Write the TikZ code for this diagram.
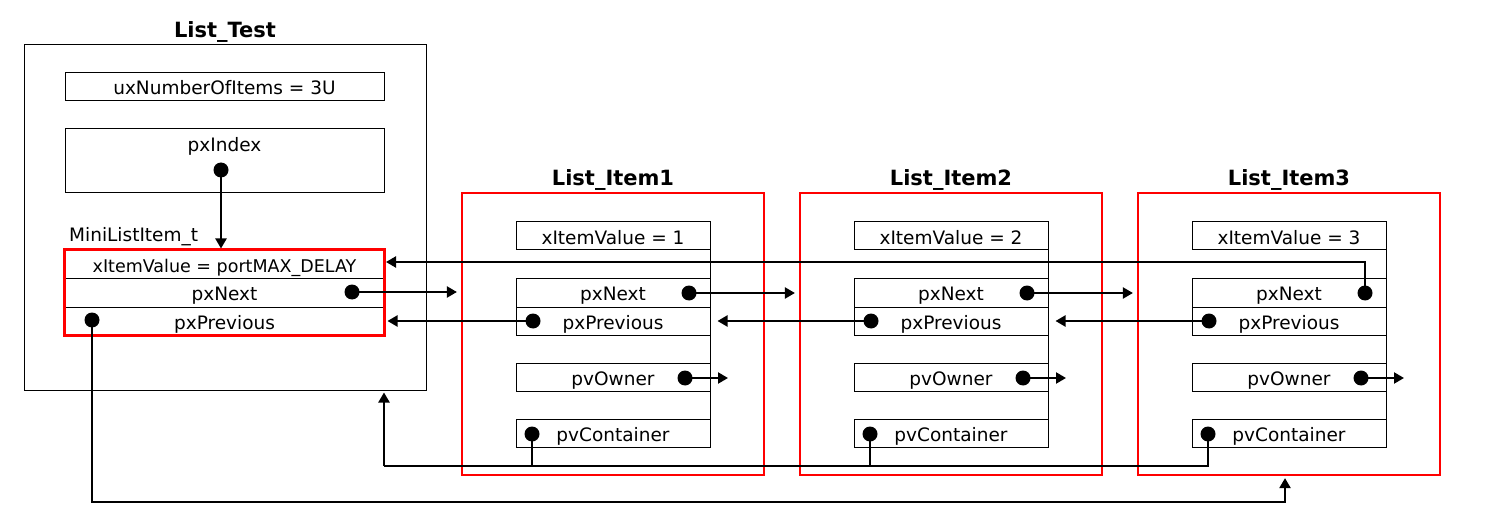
\documentclass[tikz,border=0pt]{standalone}
\usepackage{fontspec}
\setmainfont{DejaVu Sans}
\usetikzlibrary{arrows.meta}
\begin{document}
\begin{tikzpicture}[x=1pt,y=-1pt,
 body/.style={font=\fontsize{18.5}{22}\selectfont},
 small/.style={font=\fontsize{17.5}{21}\selectfont},
 ttl/.style={font=\fontsize{21}{25}\selectfont\bfseries, anchor=base, inner sep=0pt},
 fld/.style={draw, line width=1pt, inner sep=0pt, minimum height=28pt, text height=16pt, text depth=0pt, body},
 ifld/.style={fld, minimum width=194pt},
 dot/.style={circle, fill, inner sep=0pt, minimum size=15pt},
 conn/.style={line width=2.2pt, -{Triangle[length=10pt,width=11pt]}},
 bus/.style={line width=2.2pt},
 redbox/.style={draw=red, line width=2.2pt},
 outer/.style={draw, line width=1pt}]

\useasboundingbox[fill=white] (0,0) rectangle (1487,521);

% List_Test
\node[outer, minimum width=402pt, minimum height=345pt, inner sep=0pt] (lt) at (225,217.5) {};
\node[ttl] (ltt) at (225,38) {List\_Test};
\node[fld, minimum width=319pt] (ux) at (224.5,87) {uxNumberOfItems = 3U};
\node[fld, minimum width=319pt, minimum height=64pt] (pi) at (224.5,161) {};
\node[body, anchor=base, inner sep=0pt] (pit) at (224.5,152) {pxIndex};
\node[dot] (di) at (221,170) {};
\node[body, anchor=base west, inner sep=0pt] (mlt) at (69,242) {MiniListItem\_t};
\node[fld, small, minimum width=319pt] (xv0) at (224.5,264) {xItemValue = portMAX\_DELAY};
\node[fld, minimum width=319pt, minimum height=29pt] (pn0) at (224.5,292.5) {pxNext};
\node[fld, minimum width=319pt] (pp0) at (224.5,321) {pxPrevious};
\draw[redbox] (xv0.north west) rectangle (pp0.south east);
\node[dot] (dn0) at (352,292) {};
\node[dot] (dp0) at (92,320) {};

% List items
\foreach \k in {1,2,3} {
 \pgfmathsetmacro\dx{338*(\k-1)}
 \node[redbox, minimum width=302pt, minimum height=282pt, inner sep=0pt] (r\k) at (613+\dx,334) {};
 \node[ttl] (tt\k) at (613+\dx,186) {List\_Item\k};
 \node[ifld] (xv\k) at (613+\dx,236) {xItemValue = \k};
 \node[ifld, minimum height=29pt] (pn\k) at (613+\dx,292.5) {pxNext};
 \node[ifld] (pp\k) at (613+\dx,321) {pxPrevious};
 \node[ifld] (po\k) at (613+\dx,377) {pvOwner};
 \node[ifld] (pc\k) at (613+\dx,433) {pvContainer};
 \draw[line width=1pt] (xv\k.north east) -- (pc\k.south east);
 \node[dot] (dn\k) at (689+\dx,293) {};
 \node[dot] (dp\k) at (533+\dx,321) {};
 \node[dot] (do\k) at (685+\dx,378) {};
 \node[dot] (dc\k) at (532+\dx,434) {};
 \coordinate (oe\k) at (728+\dx,378);
 \draw[conn] (do\k.center) -- (oe\k);
}

% connectors
\draw[conn, shorten >=1pt] (di.center) -- (di |- xv0.north);
\draw[conn, shorten >=4pt] (dn0.center) -- (dn0 -| r1.west);
\draw[conn, shorten >=4pt] (dn1.center) -- (dn1 -| r2.west);
\draw[conn, shorten >=4pt] (dn2.center) -- (dn2 -| r3.west);
\coordinate (nl) at (386,262);
\draw[conn] (dn3.center) |- (nl);
\draw[conn, shorten >=3pt] (dp1.center) -- (dp1 -| pp0.east);
\draw[conn, shorten >=7pt] (dp2.center) -- (dp2 -| pp1.east);
\draw[conn, shorten >=7pt] (dp3.center) -- (dp3 -| pp2.east);

\coordinate (bl) at (384,466);
\draw[bus] (dc3.center) |- (bl);
\draw[line width=1.6pt] (dc1.center) -- (dc1 |- bl);
\draw[line width=1.6pt] (dc2.center) -- (dc2 |- bl);
\draw[conn, shorten >=2pt] (bl) -- (bl |- lt.south);

\coordinate (bb) at (1285,502);
\draw[conn, shorten >=2pt] (dp0.center) |- (bb) -- (bb |- r3.south);
\end{tikzpicture}
\end{document}
